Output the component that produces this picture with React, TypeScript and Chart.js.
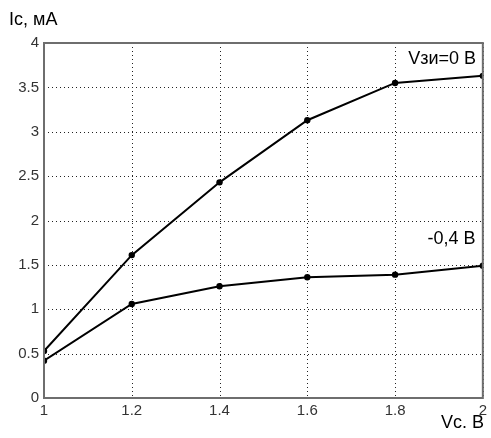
import React, { useEffect, useRef } from "react";
import { Chart, registerables } from "chart.js";

Chart.register(...registerables);

const vc = [1, 1.2, 1.4, 1.6, 1.8, 2];
const ic0 = [0.53, 1.61, 2.43, 3.13, 3.55, 3.63];
const ic04 = [0.42, 1.06, 1.26, 1.36, 1.39, 1.49];
const xTicks = [1, 1.2, 1.4, 1.6, 1.8, 2];
const yTicks = [0, 0.5, 1, 1.5, 2, 2.5, 3, 3.5, 4];
const labels = [
  { text: "Vзи=0 В", x: 1.83, y: 3.82 },
  { text: "-0,4 В", x: 1.874, y: 1.79 },
];
const FONT = "'Liberation Sans', Arial, sans-serif";

const overlay = {
  id: "overlay",
  beforeDraw(chart: any) {
    const { ctx } = chart;
    ctx.save();
    ctx.fillStyle = "#ffffff";
    ctx.fillRect(0, 0, chart.width, chart.height);
    ctx.restore();
  },
  beforeDatasetsDraw(chart: any) {
    const { ctx, chartArea: a, scales } = chart;
    ctx.save();
    ctx.strokeStyle = "#222";
    ctx.lineWidth = 1;
    ctx.setLineDash([1, 3]);
    for (const v of xTicks) {
      const px = Math.round(scales.x.getPixelForValue(v)) + 0.5;
      ctx.beginPath();
      ctx.moveTo(px, a.top);
      ctx.lineTo(px, a.bottom);
      ctx.stroke();
    }
    for (const v of yTicks) {
      const py = Math.round(scales.y.getPixelForValue(v)) + 0.5;
      ctx.beginPath();
      ctx.moveTo(a.left, py);
      ctx.lineTo(a.right, py);
      ctx.stroke();
    }
    ctx.restore();
  },
  afterDatasetsDraw(chart: any) {
    const { ctx, chartArea: a, scales } = chart;
    ctx.save();
    ctx.strokeStyle = "#6e6e6e";
    ctx.lineWidth = 2;
    ctx.strokeRect(a.left, a.top, a.right - a.left, a.bottom - a.top);
    ctx.fillStyle = "#000";
    ctx.font = "18px " + FONT;
    ctx.textBaseline = "middle";
    ctx.textAlign = "left";
    for (const l of labels) {
      ctx.fillText(l.text, scales.x.getPixelForValue(l.x), scales.y.getPixelForValue(l.y));
    }
    ctx.fillText("Ic, мА", 9, 20);
    ctx.textAlign = "right";
    ctx.fillText("Vc. В", 484, 423);
    ctx.restore();
  },
};

export default function App() {
  const ref = useRef<HTMLCanvasElement>(null);
  useEffect(() => {
    const ds = (d: number[]) => ({
      data: vc.map((x, i) => ({ x, y: d[i] })),
      borderColor: "#000",
      backgroundColor: "#000",
      borderWidth: 2,
      pointRadius: 3.2,
      pointBorderWidth: 0,
      showLine: true,
    });
    const chart = new Chart(ref.current!, {
      type: "scatter",
      data: { datasets: [ds(ic0), ds(ic04)] },
      options: {
        animation: false,
        responsive: false,
        layout: { padding: { left: 0, right: 3, top: 43, bottom: 0 } },
        plugins: { legend: { display: false }, tooltip: { enabled: false } },
        scales: {
          x: {
            type: "linear",
            min: 1,
            max: 2,
            afterBuildTicks: (s: any) => {
              s.ticks = xTicks.map((v) => ({ value: v }));
            },
            afterFit: (s: any) => {
              s.height = 40;
            },
            grid: { display: false, drawTicks: false },
            border: { display: false },
            ticks: {
              color: "#333",
              font: { size: 15, family: FONT },
              padding: 4,
              maxRotation: 0,
              autoSkip: false,
              callback: (v: any) => String(Math.round(v * 10) / 10),
            },
          },
          y: {
            type: "linear",
            min: 0,
            max: 4,
            afterBuildTicks: (s: any) => {
              s.ticks = yTicks.map((v) => ({ value: v }));
            },
            afterFit: (s: any) => {
              s.width = 44;
            },
            grid: { display: false, drawTicks: false },
            border: { display: false },
            ticks: {
              color: "#333",
              font: { size: 15, family: FONT },
              padding: 5,
              autoSkip: false,
              callback: (v: any) => String(v),
            },
          },
        },
      },
      plugins: [overlay],
    });
    return () => chart.destroy();
  }, []);
  return (
    <div style={{ position: "fixed", left: 0, top: 0, width: 491, height: 438, background: "#fff" }}>
      <canvas ref={ref} width={491} height={438} />
    </div>
  );
}
